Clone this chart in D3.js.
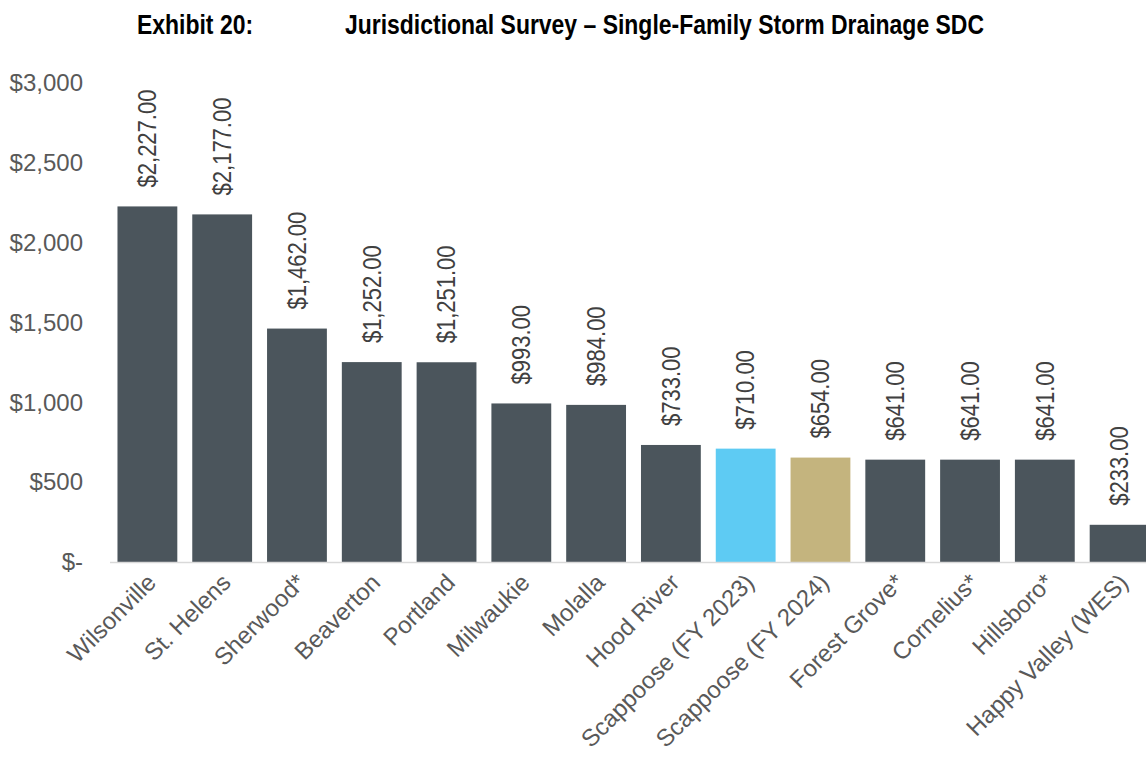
<!DOCTYPE html>
<html>
<head>
<meta charset="utf-8">
<script src="https://cdn.jsdelivr.net/npm/d3@7"></script>
<style>
  body { margin: 0; background: #fff; overflow: hidden; }
  svg { display: block; }
</style>
</head>
<body>
<div id="chart"></div>
<script>
const cities = ['Wilsonville', 'St. Helens', 'Sherwood*', 'Beaverton', 'Portland', 'Milwaukie', 'Molalla',
  'Hood River', 'Scappoose (FY 2023)', 'Scappoose (FY 2024)', 'Forest Grove*', 'Cornelius*', 'Hillsboro*', 'Happy Valley (WES)'];
const fees = [2227, 2177, 1462, 1252, 1251, 993, 984, 733, 710, 654, 641, 641, 641, 233];
const yTicks = [0, 500, 1000, 1500, 2000, 2500, 3000];

const width = 1146;
const height = 759;
const FONT = '"Liberation Sans", Arial, sans-serif';

const colorFor = name => name === 'Scappoose (FY 2023)' ? '#5ecbf3'
  : name === 'Scappoose (FY 2024)' ? '#c4b47e' : '#4b555c';

const svg = d3.select('#chart')
  .append('svg')
  .attr('width', width)
  .attr('height', height)
  .style('font-family', FONT);

const x = d3.scaleBand()
  .domain(cities)
  .range([110, 1157])
  .paddingInner(0.2)
  .paddingOuter(0.1);

const y = d3.scaleLinear()
  .domain([0, 3000])
  .range([562, 83]);

// title — narrow bold look via horizontal squeeze
const title = svg.append('g')
  .attr('font-weight', 'bold').attr('font-size', '28px').attr('fill', '#000');
title.append('text')
  .attr('transform', 'translate(137,34) scale(0.82,1)')
  .text('Exhibit 20:');
title.append('text')
  .attr('transform', 'translate(345,34) scale(0.82,1)')
  .text('Jurisdictional Survey – Single-Family Storm Drainage SDC');

// y axis labels (no line)
const yAxis = svg.append('g')
  .attr('transform', 'translate(83,0)')
  .call(d3.axisLeft(y).tickValues(yTicks).tickSize(0).tickPadding(0)
    .tickFormat(d => d === 0 ? '$-' : '$' + d3.format(',')(d)));
yAxis.select('.domain').remove();
yAxis.selectAll('text')
  .attr('font-family', FONT)
  .attr('font-size', '24px')
  .attr('fill', '#595959');

// bars
svg.selectAll('.bar')
  .data(cities)
  .enter()
  .append('rect')
  .attr('class', 'bar')
  .attr('x', d => x(d))
  .attr('width', x.bandwidth())
  .attr('y', (d, i) => y(fees[i]))
  .attr('height', (d, i) => y(0) - y(fees[i]))
  .attr('fill', d => colorFor(d));

// baseline
svg.append('line')
  .attr('x1', 110).attr('x2', width)
  .attr('y1', y(0) + 0.5).attr('y2', y(0) + 0.5)
  .attr('stroke', '#d9d9d9').attr('stroke-width', 1.5);

// value labels (slightly condensed along the text direction)
svg.selectAll('.val')
  .data(cities)
  .enter()
  .append('text')
  .attr('class', 'val')
  .attr('transform', (d, i) => `translate(${x(d) + x.bandwidth() / 2},${y(fees[i]) - 19}) rotate(-90) scale(0.88,1)`)
  .attr('dy', '0.35em')
  .attr('font-size', '25px')
  .attr('fill', '#404040')
  .text((d, i) => '$' + d3.format(',.2f')(fees[i]));

// category labels
svg.selectAll('.cat')
  .data(cities)
  .enter()
  .append('text')
  .attr('class', 'cat')
  .attr('transform', d => `translate(${x(d) + x.bandwidth() / 2 + 10},${y(0) + 22}) rotate(-45)`)
  .attr('text-anchor', 'end')
  .attr('font-size', '24px')
  .attr('fill', '#595959')
  .text(d => d);
</script>
</body>
</html>
